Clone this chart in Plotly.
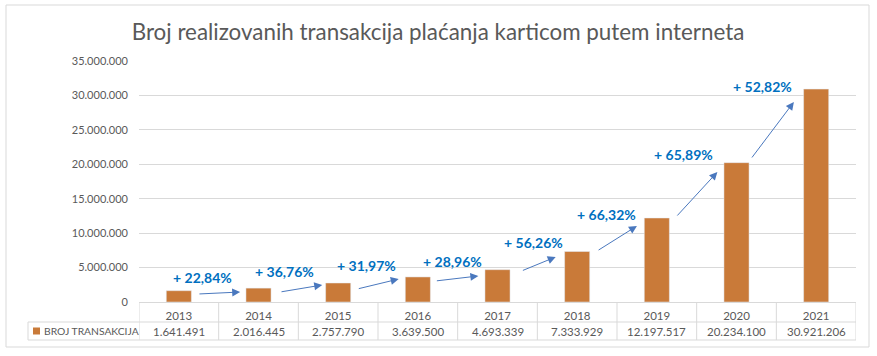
import plotly.graph_objects as go

# ---- data ----
YEARS = ["2013", "2014", "2015", "2016", "2017", "2018", "2019", "2020", "2021"]
TRANSACTIONS = [1641491, 2016445, 2757790, 3639500, 4693339, 7333929, 12197517, 20234100, 30921206]
VALUE_LABELS = ["1.641.491", "2.016.445", "2.757.790", "3.639.500", "4.693.339",
                "7.333.929", "12.197.517", "20.234.100", "30.921.206"]
GROWTH_LABELS = ["+ 22,84%", "+ 36,76%", "+ 31,97%", "+ 28,96%", "+ 56,26%",
                 "+ 66,32%", "+ 65,89%", "+ 52,82%"]
SERIES_NAME = "BROJ TRANSAKCIJA"
TITLE = "Broj realizovanih transakcija plaćanja karticom putem interneta"

# ---- annotation placement (layout, in axis units) ----
ARROWS = [  # (x_start, y_start, x_end, y_end)
    (0.24, 1.16e6, 0.77, 1.45e6),
    (1.27, 1.45e6, 1.80, 2.47e6),
    (2.24, 1.89e6, 2.76, 3.34e6),
    (3.22, 3.05e6, 3.76, 3.78e6),
    (4.30, 4.50e6, 4.73, 6.54e6),
    (5.25, 7.41e6, 5.75, 11.04e6),
    (6.24, 12.34e6, 6.76, 18.88e6),
    (7.18, 20.77e6, 7.72, 29.05e6),
]
LABEL_POS = [(0.30, 3.63e6), (1.33, 4.36e6), (2.36, 5.37e6), (3.44, 5.95e6),
             (4.45, 8.71e6), (5.37, 12.78e6), (6.33, 21.49e6), (7.33, 31.37e6)]

BAR_COLOR = "#C97A39"
GRID = "#D9D9D9"
TXT = "#595959"
BLUE = "#0070C0"
ARROW_C = "#4A78BE"
FONT = "Lato, 'Open Sans', sans-serif"

W, H = 877, 356
ML, MR, MT, MB = 139, 21, 61, 54
PW = W - ML - MR
PH = H - MT - MB

def px_x(p):
    return (p - ML) / PW

def px_y(p):
    return (H - MB - p) / PH

fig = go.Figure()
fig.add_trace(go.Bar(x=list(range(len(YEARS))), y=TRANSACTIONS, marker_color=BAR_COLOR,
                     name=SERIES_NAME, showlegend=False, width=0.315,
                     hoverinfo="x+y"))

shapes = []
annotations = []

# outer border
shapes.append(dict(type="rect", xref="paper", yref="paper",
                   x0=px_x(6), x1=px_x(869), y0=px_y(347), y1=px_y(5),
                   line=dict(color=GRID, width=1), fillcolor="rgba(0,0,0,0)", layer="below"))

# data table lines
row1 = px_y(322)
row2 = px_y(340)
for yy in (row1, row2):
    shapes.append(dict(type="line", xref="paper", yref="paper", x0=px_x(28), x1=1,
                       y0=yy, y1=yy, line=dict(color=GRID, width=1)))
shapes.append(dict(type="line", xref="paper", yref="paper", x0=px_x(28), x1=px_x(28),
                   y0=row2, y1=row1, line=dict(color=GRID, width=1)))
for i in range(len(YEARS) + 1):
    shapes.append(dict(type="line", xref="x", yref="paper", x0=i - 0.5, x1=i - 0.5,
                       y0=row2, y1=0, line=dict(color=GRID, width=1)))

# legend key
key_c = px_y(331)
shapes.append(dict(type="rect", xref="paper", yref="paper",
                   x0=px_x(33), x1=px_x(40), y0=key_c - 3.5 / PH, y1=key_c + 3.5 / PH,
                   fillcolor=BAR_COLOR, line=dict(width=0)))
annotations.append(dict(xref="paper", yref="paper", x=px_x(42), y=key_c,
                        text=SERIES_NAME, showarrow=False, xanchor="left", yanchor="middle",
                        font=dict(family=FONT, size=10.3, color=TXT)))

# value row
for i, v in enumerate(VALUE_LABELS):
    annotations.append(dict(xref="x", yref="paper", x=i, y=key_c, text=v, showarrow=False,
                            xanchor="center", yanchor="middle",
                            font=dict(family=FONT, size=11.5, color=TXT)))

# growth arrows and labels
for (x0, y0, x1, y1) in ARROWS:
    annotations.append(dict(xref="x", yref="y", axref="x", ayref="y",
                            x=x1, y=y1, ax=x0, ay=y0, text="", showarrow=True,
                            arrowhead=2, arrowsize=1.6, arrowwidth=1, arrowcolor=ARROW_C))
for (lx, ly), t in zip(LABEL_POS, GROWTH_LABELS):
    annotations.append(dict(xref="x", yref="y", x=lx, y=ly, text="<b>" + t + "</b>",
                            showarrow=False, xanchor="center", yanchor="middle",
                            font=dict(family=FONT, size=14, color=BLUE)))

fig.update_layout(
    width=W, height=H,
    margin=dict(l=ML, r=MR, t=MT, b=MB),
    paper_bgcolor="white", plot_bgcolor="white",
    separators=",.",
    title=dict(text=TITLE, xref="container", x=438 / W, xanchor="center",
               yref="container", y=1 - 32 / H, yanchor="middle",
               font=dict(family=FONT, size=22.4, color=TXT)),
    xaxis=dict(type="linear", range=[-0.5, len(YEARS) - 0.5],
               tickmode="array", tickvals=list(range(len(YEARS))), ticktext=YEARS,
               showgrid=False, zeroline=False, showline=True, linecolor=GRID, linewidth=1,
               ticks="", ticklabelstandoff=3,
               tickfont=dict(family=FONT, size=11.5, color=TXT)),
    yaxis=dict(range=[0, 35e6], dtick=5e6, tickformat=",.0f",
               showgrid=True, gridcolor=GRID, gridwidth=1, zeroline=False,
               showline=False, ticks="", ticklabelstandoff=10,
               tickfont=dict(family=FONT, size=11, color=TXT)),
    bargap=0.685,
    shapes=shapes,
    annotations=annotations,
    font=dict(family=FONT, color=TXT),
)

fig.write_html("out.html", config={"displayModeBar": False},
               post_script="document.body.style.margin='0';")
